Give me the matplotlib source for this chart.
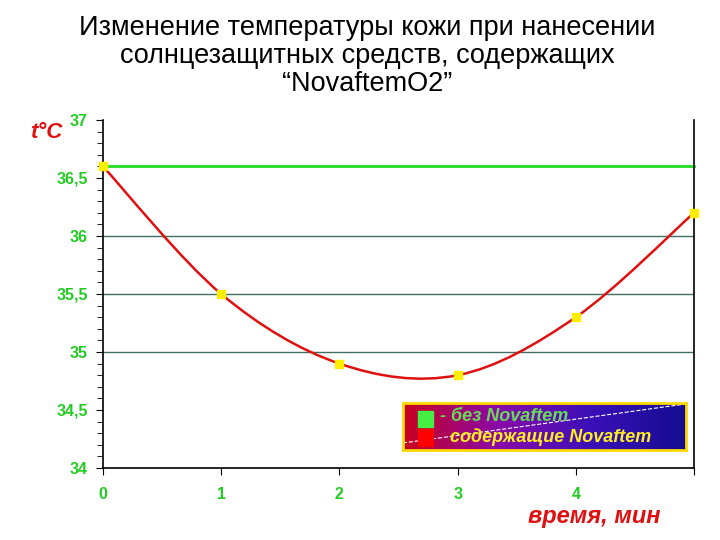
import numpy as np
import matplotlib
matplotlib.use("Agg")
import matplotlib.pyplot as plt
from matplotlib.path import Path
from matplotlib.patches import PathPatch, Rectangle
from matplotlib.ticker import MultipleLocator, FuncFormatter
from matplotlib.colors import LinearSegmentedColormap

plt.rcParams['font.family'] = ['Liberation Sans', 'DejaVu Sans']

# Data
time_min = [0, 1, 2, 3, 4, 5]
temp_with = [36.6, 35.5, 34.9, 34.8, 35.3, 36.2]
temp_without = [36.6, 36.6]
x_without = [0, 5]
grid_levels = [35.0, 35.5, 36.0]

fig = plt.figure(figsize=(7.2, 5.4), dpi=100)
ax = fig.add_axes([103 / 720, 1 - 468 / 540, (694 - 103) / 720, (468 - 120) / 540])
ax.set_xlim(0, 5)
ax.set_ylim(34, 37)

for g in grid_levels:
    ax.axhline(g, color='#3f6f62', lw=1, zorder=1)

ax.plot(x_without, temp_without, color='#22dd22', lw=2, zorder=2, clip_on=False)

# smoothed curve (Excel-like Bezier smoothing through the data points)
pts = np.column_stack([time_min, temp_with])
verts = [tuple(pts[0])]
codes = [Path.MOVETO]
n = len(pts)
for i in range(n - 1):
    p0 = pts[i - 1] if i > 0 else pts[i]
    p1 = pts[i]
    p2 = pts[i + 1]
    p3 = pts[i + 2] if i + 2 < n else pts[i + 1]
    c1 = p1 + (p2 - p0) / 6
    c2 = p2 - (p3 - p1) / 6
    verts += [tuple(c1), tuple(c2), tuple(p2)]
    codes += [Path.CURVE4] * 3
ax.add_patch(PathPatch(Path(verts, codes), fill=False, edgecolor='#e01010', lw=1.8, zorder=3, clip_on=False))

ax.plot(time_min, temp_with, ls='none', marker='s', ms=6, color='#ffee00', mec='#ffee00', zorder=4, clip_on=False)

# axes look
ax.spines['top'].set_visible(False)
for s in ['left', 'bottom', 'right']:
    ax.spines[s].set_color('black')
    ax.spines[s].set_linewidth(1.2)
ax.xaxis.set_major_locator(MultipleLocator(1))
ax.yaxis.set_major_locator(MultipleLocator(0.5))
ax.yaxis.set_minor_locator(MultipleLocator(0.1))
ax.tick_params(axis='both', which='major', length=5, color='black', labelcolor='#22cc22', labelsize=11.5)
ax.tick_params(axis='y', which='minor', length=4, color='black')
ax.tick_params(axis='x', pad=9)
ax.tick_params(axis='y', pad=6)
ax.xaxis.set_major_formatter(FuncFormatter(lambda v, p: '' if v >= 5 else f'{int(v)}'))
ax.yaxis.set_major_formatter(FuncFormatter(lambda v, p: f'{v:g}'.replace('.', ',')))
for lab in ax.get_xticklabels() + ax.get_yticklabels():
    lab.set_fontweight('bold')

# legend box with gradient
lx0, ly0, lw, lh = 403 / 720, 1 - 450 / 540, (686 - 403) / 720, (450 - 403) / 540
grad = np.linspace(0, 1, 256).reshape(1, -1)
cmap = LinearSegmentedColormap.from_list('lg', ['#c8001e', '#8a0aa8', '#3a10b8', '#140c90'])
lax = fig.add_axes([lx0, ly0, lw, lh])
lax.imshow(grad, aspect='auto', cmap=cmap, extent=[0, 1, 0, 1])
lax.set_xlim(0, 1)
lax.set_ylim(0, 1)
lax.set_xticks([])
lax.set_yticks([])
for s in lax.spines.values():
    s.set_color('#ffd800')
    s.set_linewidth(2)
lax.plot([0, 1], [0.15, 0.98], color='white', ls='--', lw=0.8)
lax.add_patch(Rectangle((0.053, 0.5), 0.053, 0.34, color='#44ee44', zorder=3))
lax.add_patch(Rectangle((0.053, 0.08), 0.053, 0.36, color='#ff0000', zorder=3))
lax.text(0.13, 0.72, '- без Novaftem', color='#66dd55', fontsize=13, style='italic',
         fontweight='bold', va='center', ha='left', zorder=4)
lax.text(0.165, 0.27, 'содержащие Novaftem', color='#ffee22', fontsize=13, style='italic',
         fontweight='bold', va='center', ha='left', zorder=4)

fig.text(367 / 720, 1 - 56 / 540,
         'Изменение температуры кожи при нанесении\nсолнцезащитных средств, содержащих\n“NovaftemO2”',
         ha='center', va='center', fontsize=19.5, linespacing=1.08, color='black')
fig.text(46 / 720, 1 - 132 / 540, 't°C', color='#e01010', fontsize=16, style='italic',
         fontweight='bold', ha='center', va='center')
fig.text(594 / 720, 1 - 517 / 540, 'время, мин', color='#e01010', fontsize=17, style='italic',
         fontweight='bold', ha='center', va='center')

fig.savefig('out.png', dpi=100)
